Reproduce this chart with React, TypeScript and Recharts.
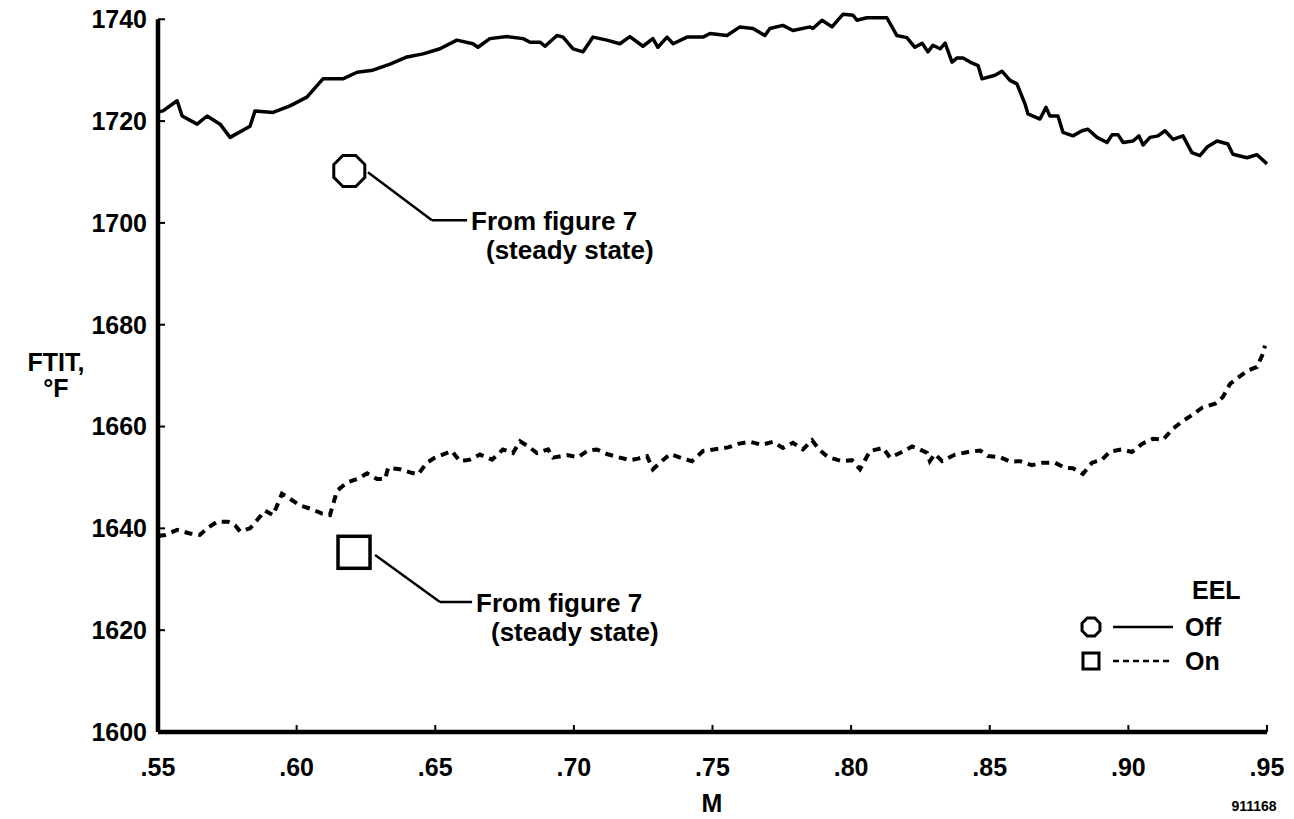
import {
  ComposedChart,
  Line,
  Scatter,
  XAxis,
  YAxis,
  ReferenceLine,
} from "recharts";

// FTIT trace with EEL off (solid)
const offM = [
  0.55, 0.5518, 0.5569, 0.5587, 0.5641, 0.5677, 0.5724, 0.576, 0.5832, 0.585,
  0.5915, 0.5976, 0.6037, 0.6095, 0.6167, 0.6218, 0.6275, 0.6337, 0.6398, 0.6456,
  0.6517, 0.6578, 0.6636, 0.6654, 0.6697, 0.6759, 0.6817, 0.6842, 0.6878, 0.6896,
  0.6939, 0.6961, 0.6997, 0.7033, 0.7069, 0.7119, 0.7166, 0.7202, 0.7249, 0.7285,
  0.7303, 0.7336, 0.7358, 0.7408, 0.7466, 0.7491, 0.7552, 0.7599, 0.7646, 0.7689,
  0.7707, 0.7754, 0.779, 0.7852, 0.7862, 0.7895, 0.7931, 0.7971, 0.8007, 0.8021,
  0.8057, 0.8129, 0.8165, 0.8201, 0.823, 0.8256, 0.8277, 0.8295, 0.8321, 0.8339,
  0.8364, 0.8382, 0.8404, 0.8429, 0.8458, 0.8472, 0.8519, 0.8544, 0.8573, 0.8598,
  0.8627, 0.8638, 0.8681, 0.8703, 0.8717, 0.8746, 0.8764, 0.88, 0.8833, 0.8854,
  0.8887, 0.8923, 0.8941, 0.8963, 0.8981, 0.9017, 0.9038, 0.9053, 0.9078, 0.9107,
  0.9132, 0.9161, 0.9197, 0.9229, 0.9258, 0.9284, 0.932, 0.9359, 0.9377, 0.9428,
  0.9464, 0.95,
];
const offT = [
  1721.8, 1722, 1724, 1721, 1719.4, 1721, 1719.4, 1716.8, 1719, 1722,
  1721.7, 1723, 1724.7, 1728.3, 1728.3, 1729.6, 1730, 1731.2, 1732.6, 1733.2,
  1734.2, 1735.9, 1735.2, 1734.5, 1736.2, 1736.6, 1736.2, 1735.5, 1735.5, 1734.7,
  1736.8, 1736.5, 1734.2, 1733.6, 1736.5, 1735.9, 1735.2, 1736.6, 1734.7, 1736.2,
  1734.5, 1736.5, 1735.2, 1736.5, 1736.5, 1737.2, 1736.8, 1738.5, 1738.2, 1736.8,
  1738.2, 1738.8, 1737.8, 1738.5, 1738.2, 1739.8, 1738.5, 1741, 1740.8, 1739.8,
  1740.3, 1740.3, 1736.8, 1736.4, 1734.5, 1735.3, 1733.6, 1734.9, 1734.2, 1735.3,
  1731.6, 1732.4, 1732.4, 1731.6, 1730.9, 1728.3, 1729, 1729.8, 1728, 1727.3,
  1723.4, 1721.4, 1720.4, 1722.7, 1721, 1721, 1717.8, 1717.1, 1718.1, 1718.4,
  1716.8, 1715.8, 1717.3, 1717.3, 1715.8, 1716.1, 1717.1, 1715.3, 1716.8, 1717.1,
  1718.1, 1716.4, 1717.1, 1713.8, 1713.2, 1714.9, 1716.1, 1715.5, 1713.5, 1712.8,
  1713.4, 1711.6,
];

// FTIT trace with EEL on (dashed)
const onM = [
  0.55, 0.5525, 0.5569, 0.5615, 0.5651, 0.5677, 0.5713, 0.5752, 0.5778, 0.5796,
  0.5832, 0.5857, 0.5886, 0.5915, 0.5947, 0.5976, 0.6012, 0.6048, 0.6092, 0.612,
  0.6146, 0.6182, 0.6218, 0.6254, 0.629, 0.6319, 0.633, 0.6373, 0.6409, 0.6438,
  0.647, 0.6499, 0.656, 0.6589, 0.6625, 0.6661, 0.6705, 0.6744, 0.678, 0.6806,
  0.6835, 0.6867, 0.6907, 0.6925, 0.6975, 0.7015, 0.7051, 0.7083, 0.7119, 0.7159,
  0.7202, 0.7231, 0.7264, 0.7285, 0.7321, 0.7347, 0.7394, 0.7426, 0.7466, 0.7516,
  0.7556, 0.7592, 0.7635, 0.7678, 0.7718, 0.7754, 0.779, 0.7826, 0.7859, 0.7888,
  0.7917, 0.7967, 0.8003, 0.8032, 0.8068, 0.8115, 0.814, 0.8176, 0.822, 0.8241,
  0.8274, 0.8284, 0.8302, 0.8328, 0.8375, 0.8422, 0.8465, 0.8494, 0.8537, 0.8573,
  0.8609, 0.8652, 0.8692, 0.8735, 0.8771, 0.88, 0.8836, 0.8869, 0.8905, 0.8934,
  0.8977, 0.9013, 0.9049, 0.9089, 0.9125, 0.9161, 0.9197, 0.9233, 0.9266, 0.9313,
  0.9341, 0.9367, 0.9403, 0.9431, 0.9464, 0.9482, 0.9493,
];
const onT = [
  1638.5, 1638.7, 1639.7, 1639, 1638.7, 1640, 1641.3, 1641.3, 1640.6, 1639.4,
  1640, 1641.6, 1643.5, 1642.6, 1646.8, 1645.8, 1644.5, 1643.9, 1642.9, 1642.6,
  1647.4, 1649, 1649.7, 1650.8, 1649.7, 1649.7, 1651.9, 1651.6, 1651, 1650.6,
  1652.9, 1653.9, 1655.2, 1653.2, 1653.5, 1654.5, 1653.5, 1655.5, 1654.8, 1657.1,
  1656.1, 1654.8, 1655.5, 1653.9, 1654.4, 1654, 1655.3, 1655.5, 1654.6, 1654,
  1653.4, 1653.7, 1654.2, 1651.6, 1653.4, 1654.6, 1653.7, 1653.2, 1655.2, 1655.6,
  1655.9, 1656.6, 1657, 1656.4, 1657, 1655.8, 1656.8, 1655.5, 1657.3, 1655.3,
  1654, 1653.2, 1653.4, 1651.6, 1655.2, 1655.8, 1653.9, 1654.8, 1656.1, 1655.7,
  1654.8, 1653.2, 1654.6, 1653.2, 1654.5, 1655, 1655.3, 1654.2, 1654, 1653.1,
  1653.2, 1652.4, 1652.9, 1652.9, 1651.9, 1651.8, 1650.7, 1652.9, 1653.5, 1655.1,
  1655.5, 1655, 1656.6, 1657.6, 1657.4, 1659.6, 1661.1, 1662.4, 1663.7, 1664.5,
  1665.8, 1668.4, 1669.9, 1671, 1671.7, 1673.9, 1675.9,
];

// steady-state points taken from figure 7
const steadyOff = [{ m: 0.619, t: 1710.2 }];
const steadyOn = [{ m: 0.6207, t: 1635.3 }];

const xTicks = [0.55, 0.6, 0.65, 0.7, 0.75, 0.8, 0.85, 0.9, 0.95];
const yTicks = [1600, 1620, 1640, 1660, 1680, 1700, 1720, 1740];

const offData = offM.map((m, i) => ({ m, t: offT[i] }));
const onData = onM.map((m, i) => ({ m, t: onT[i] }));

const FONT = "'Liberation Sans', Arial, Helvetica, sans-serif";

function octagonPoints(cx: number, cy: number, r: number) {
  const pts: string[] = [];
  for (let k = 0; k < 8; k++) {
    const a = ((22.5 + k * 45) * Math.PI) / 180;
    pts.push(`${cx + r * Math.cos(a)},${cy + r * Math.sin(a)}`);
  }
  return pts.join(" ");
}

const OctagonShape = (props: any) => (
  <polygon
    points={octagonPoints(props.cx, props.cy, 16.8)}
    fill="#fff"
    stroke="#000"
    strokeWidth={3}
  />
);

const SquareShape = (props: any) => (
  <rect
    x={props.cx - 16}
    y={props.cy - 16}
    width={32}
    height={32}
    fill="#fff"
    stroke="#000"
    strokeWidth={3.5}
  />
);

const leader = { stroke: "#000", strokeWidth: 2.5 };

export default function App() {
  const txt = {
    fontFamily: FONT,
    fontWeight: 700,
    fill: "#000",
  } as const;

  return (
    <div
      style={{
        position: "absolute",
        left: 0,
        top: 0,
        width: 1294,
        height: 819,
        background: "#fff",
      }}
    >
      {/* y range runs a little past 1740 so the peak near M = .80 is not clipped;
          the left axis line itself is drawn as a segment that stops at 1740 */}
      <ComposedChart
        width={1294}
        height={819}
        margin={{ top: 4, right: 27, bottom: 0, left: 0 }}
      >
        <XAxis
          type="number"
          dataKey="m"
          domain={[0.55, 0.95]}
          ticks={xTicks}
          tickFormatter={(v: number) => v.toFixed(2).replace(/^0/, "")}
          height={87}
          axisLine={{ stroke: "#000", strokeWidth: 4.5 }}
          tickLine={{ stroke: "#000", strokeWidth: 2 }}
          tickSize={-7}
          tickMargin={33}
          tick={{ ...txt, fontSize: 25 }}
        />
        <YAxis
          type="number"
          domain={[1600, 1743]}
          ticks={yTicks}
          width={158}
          axisLine={false}
          tickLine={{ stroke: "#000", strokeWidth: 2 }}
          tickSize={-7}
          tickMargin={18}
          tick={{ ...txt, fontSize: 25 }}
        />
        <ReferenceLine
          segment={[
            { x: 0.55, y: 1600 },
            { x: 0.55, y: 1740 },
          ]}
          stroke="#000"
          strokeWidth={4.5}
          ifOverflow="visible"
        />
        <ReferenceLine
          segment={[
            { x: 0.6257, y: 1709.96 },
            { x: 0.6488, y: 1700.53 },
          ]}
          {...leader}
          ifOverflow="visible"
        />
        <ReferenceLine
          segment={[
            { x: 0.6488, y: 1700.53 },
            { x: 0.6615, y: 1700.53 },
          ]}
          {...leader}
          ifOverflow="visible"
        />
        <ReferenceLine
          segment={[
            { x: 0.6283, y: 1634.76 },
            { x: 0.6517, y: 1625.53 },
          ]}
          {...leader}
          ifOverflow="visible"
        />
        <ReferenceLine
          segment={[
            { x: 0.6517, y: 1625.53 },
            { x: 0.6633, y: 1625.53 },
          ]}
          {...leader}
          ifOverflow="visible"
        />
        <Line
          data={offData}
          dataKey="t"
          type="linear"
          stroke="#000"
          strokeWidth={3.5}
          strokeLinejoin="round"
          dot={false}
          activeDot={false}
          isAnimationActive={false}
        />
        <Line
          data={onData}
          dataKey="t"
          type="linear"
          stroke="#000"
          strokeWidth={4}
          strokeDasharray="8 6"
          dot={false}
          activeDot={false}
          isAnimationActive={false}
        />
        <Scatter
          data={steadyOff}
          dataKey="t"
          shape={OctagonShape}
          isAnimationActive={false}
        />
        <Scatter
          data={steadyOn}
          dataKey="t"
          shape={SquareShape}
          isAnimationActive={false}
        />
      </ComposedChart>

      <svg
        width={1294}
        height={819}
        style={{ position: "absolute", left: 0, top: 0, pointerEvents: "none" }}
      >
        {/* axis titles */}
        <text {...txt} fontSize={25} x={56} y={362} textAnchor="middle" dominantBaseline="central">
          FTIT,
        </text>
        <text {...txt} fontSize={25} x={56} y={388} textAnchor="middle" dominantBaseline="central">
          °F
        </text>
        <text {...txt} fontSize={25} x={712} y={803} textAnchor="middle" dominantBaseline="central">
          M
        </text>

        {/* annotations */}
        <text {...txt} fontSize={26} x={471} y={221} dominantBaseline="central">
          From figure 7
        </text>
        <text {...txt} fontSize={26} x={486} y={250} dominantBaseline="central">
          (steady state)
        </text>
        <text {...txt} fontSize={26} x={476} y={603} dominantBaseline="central">
          From figure 7
        </text>
        <text {...txt} fontSize={26} x={491} y={632} dominantBaseline="central">
          (steady state)
        </text>

        {/* legend */}
        <text {...txt} fontSize={25} x={1192} y={590} dominantBaseline="central">
          EEL
        </text>
        <polygon
          points={octagonPoints(1091, 627, 9.7)}
          fill="#fff"
          stroke="#000"
          strokeWidth={3}
        />
        <line x1={1113} y1={627} x2={1173} y2={627} stroke="#000" strokeWidth={2.5} />
        <text {...txt} fontSize={25} x={1185} y={627} dominantBaseline="central">
          Off
        </text>
        <rect x={1083} y={653} width={16} height={16} fill="#fff" stroke="#000" strokeWidth={3} />
        <line
          x1={1113}
          y1={661}
          x2={1173}
          y2={661}
          stroke="#000"
          strokeWidth={2.5}
          strokeDasharray="6 4"
        />
        <text {...txt} fontSize={25} x={1185} y={661} dominantBaseline="central">
          On
        </text>

        <text {...txt} fontSize={14} x={1254} y={806} textAnchor="middle" dominantBaseline="central">
          911168
        </text>
      </svg>
    </div>
  );
}
